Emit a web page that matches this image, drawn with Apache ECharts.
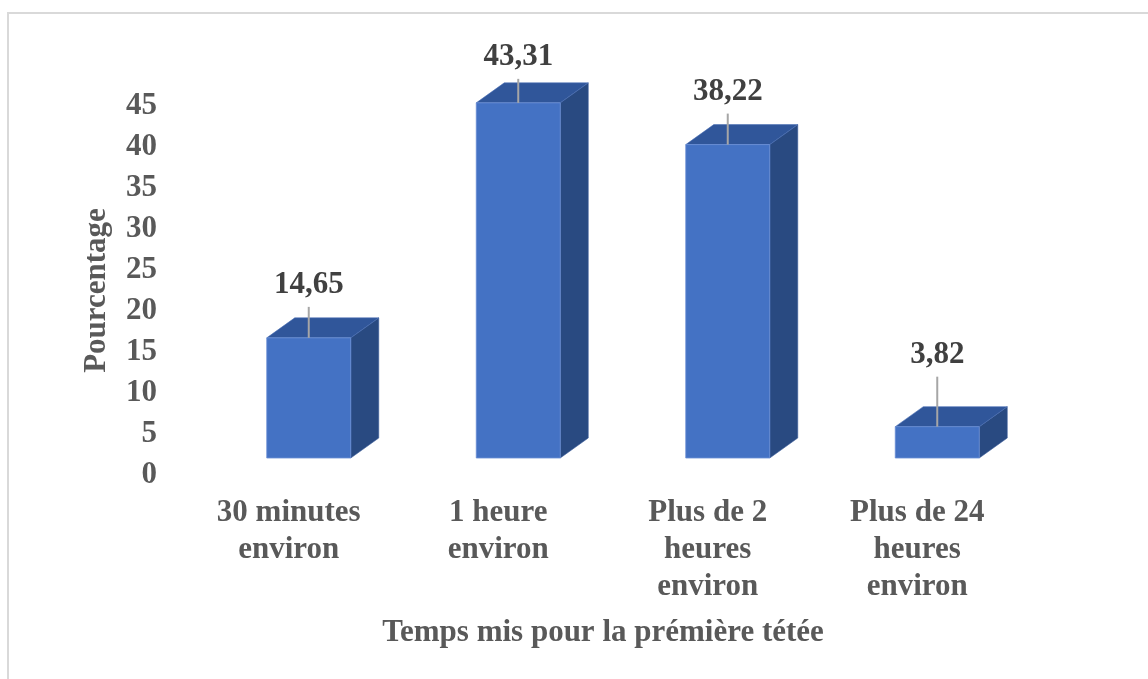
<!DOCTYPE html>
<html>
<head>
<meta charset="utf-8">
<script src="https://cdn.jsdelivr.net/npm/echarts@6/dist/echarts.min.js"></script>
<style>
  html, body { margin: 0; padding: 0; background: #ffffff; }
  #chart { width: 1148px; height: 679px; }
</style>
</head>
<body>
<div id="chart"></div>
<script>
// Temps mis pour la première tétée — répartition en pourcentage
const categories = ['30 minutes\nenviron', '1 heure\nenviron', 'Plus de 2\nheures\nenviron', 'Plus de 24\nheures\nenviron'];
const values = [14.65, 43.31, 38.22, 3.82];
const valueLabels = ['14,65', '43,31', '38,22', '3,82'];
const yTicks = [0, 5, 10, 15, 20, 25, 30, 35, 40, 45];

// drawing style for the pseudo-3D columns
const FONT = '"Liberation Serif", "Times New Roman", serif';
const FONT_SIZE = 31;
const AXIS_COLOR = '#595959';
const FRONT = '#4472C4';
const TOP = '#30569A';
const SIDE = '#294A81';
const HALF_W = 42;
const DEPTH_X = 28;
const DEPTH_Y = -20;
const leaderLen = [31, 24, 31, 50];

const chart = echarts.init(document.getElementById('chart'), null, { renderer: 'canvas' });

function renderColumn(params, api) {
  const i = params.dataIndex;
  const v = api.value(1);
  const top = api.coord([i, v]);
  const base = api.coord([i, 0]);
  const x0 = top[0] - HALF_W, x1 = top[0] + HALF_W;
  const yt = top[1], yb = base[1];
  const lineTop = yt - leaderLen[i];
  return {
    type: 'group',
    children: [
      {
        type: 'polygon',
        shape: { points: [[x1, yt], [x1 + DEPTH_X, yt + DEPTH_Y], [x1 + DEPTH_X, yb + DEPTH_Y], [x1, yb]] },
        style: { fill: SIDE, stroke: '#3A5C9A', lineWidth: 0.6 }
      },
      {
        type: 'polygon',
        shape: { points: [[x0, yt], [x0 + DEPTH_X, yt + DEPTH_Y], [x1 + DEPTH_X, yt + DEPTH_Y], [x1, yt]] },
        style: { fill: TOP, stroke: '#4A6FB5', lineWidth: 0.6 }
      },
      {
        type: 'rect',
        shape: { x: x0, y: yt, width: x1 - x0, height: yb - yt },
        style: { fill: FRONT, stroke: '#6A8FD6', lineWidth: 0.8 }
      },
      {
        type: 'line',
        shape: { x1: top[0], y1: yt, x2: top[0], y2: lineTop },
        style: { stroke: '#A6A6A6', lineWidth: 2 }
      },
      {
        type: 'text',
        x: top[0],
        y: lineTop - 22,
        style: {
          text: valueLabels[i],
          fill: '#404040',
          font: 'bold ' + FONT_SIZE + 'px ' + FONT,
          align: 'center',
          verticalAlign: 'middle'
        }
      }
    ]
  };
}

const option = {
  backgroundColor: '#ffffff',
  animation: false,
  graphic: [
    {
      type: 'rect',
      shape: { x: 8, y: 13, width: 1200, height: 720 },
      style: { fill: 'none', stroke: '#D9D9D9', lineWidth: 2 },
      silent: true
    }
  ],
  grid: [
    { left: 204, top: 89, width: 838, height: 369 },
    { left: 184, top: 106, width: 838, height: 369 }
  ],
  xAxis: [
    {
      type: 'category', gridIndex: 0, data: categories,
      axisLine: { show: false }, axisTick: { show: false }, axisLabel: { show: false }
    },
    {
      type: 'category', gridIndex: 1, data: categories,
      axisLine: { show: false }, axisTick: { show: false },
      axisLabel: {
        margin: 19, color: AXIS_COLOR, fontFamily: FONT, fontWeight: 'bold',
        fontSize: FONT_SIZE, lineHeight: 37, interval: 0
      },
      name: 'Temps mis pour la prémière tétée',
      nameLocation: 'middle', nameGap: 142,
      nameTextStyle: { color: AXIS_COLOR, fontFamily: FONT, fontWeight: 'bold', fontSize: FONT_SIZE }
    }
  ],
  yAxis: [
    {
      type: 'value', gridIndex: 0, min: 0, max: 45, interval: 5,
      axisLine: { show: false }, axisTick: { show: false }, axisLabel: { show: false },
      splitLine: { show: false }
    },
    {
      type: 'value', gridIndex: 1, min: yTicks[0], max: yTicks[yTicks.length - 1], interval: 5,
      axisLine: { show: false }, axisTick: { show: false }, splitLine: { show: false },
      axisLabel: { margin: 27, color: AXIS_COLOR, fontFamily: FONT, fontWeight: 'bold', fontSize: FONT_SIZE },
      name: 'Pourcentage', nameLocation: 'middle', nameGap: 72, nameRotate: 90,
      nameTextStyle: { color: AXIS_COLOR, fontFamily: FONT, fontWeight: 'bold', fontSize: FONT_SIZE }
    }
  ],
  series: [
    {
      type: 'custom',
      xAxisIndex: 0, yAxisIndex: 0,
      renderItem: renderColumn,
      data: values.map((v, i) => [i, v]),
      z: 5
    }
  ]
};

chart.setOption(option);
</script>
</body>
</html>
